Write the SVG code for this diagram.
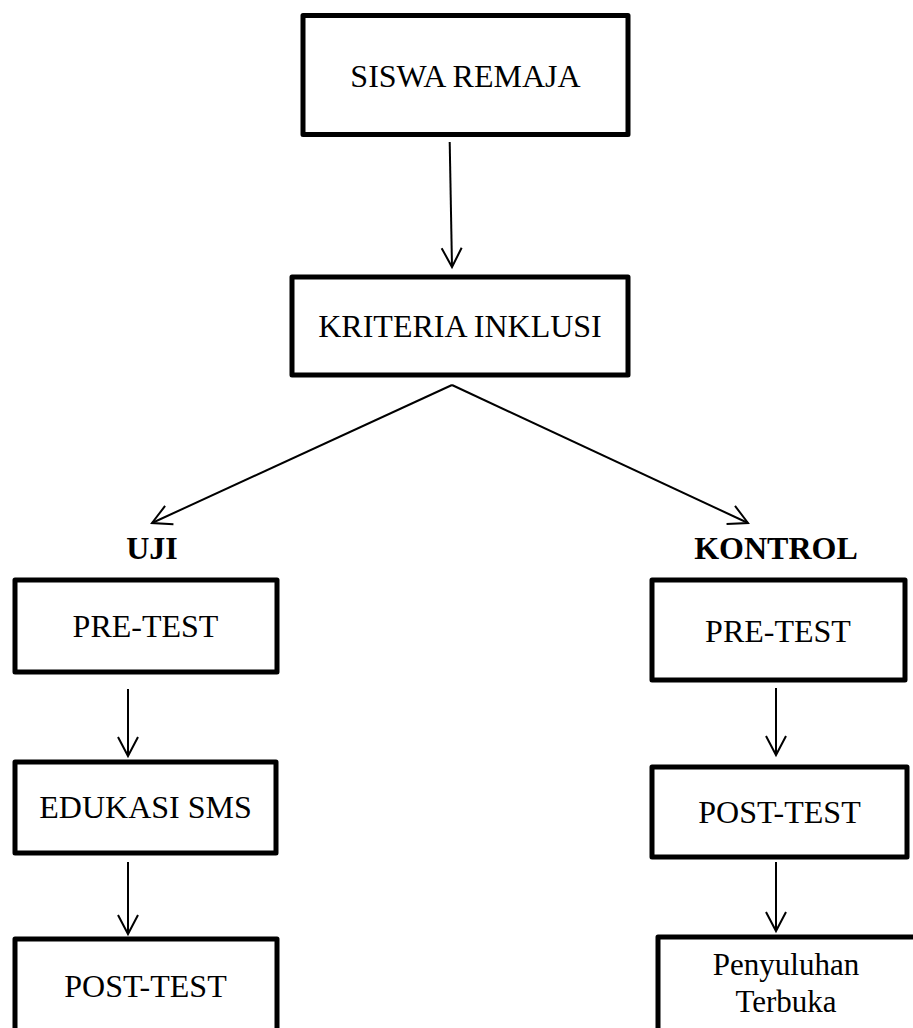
<svg xmlns="http://www.w3.org/2000/svg" width="913" height="1028" viewBox="0 0 913 1028">
<defs>
<style>
.box{fill:#fff;stroke:#000;stroke-width:5;stroke-linejoin:round}
.t{font-family:"Liberation Serif","Times New Roman",serif;font-size:32px;fill:#000;text-anchor:middle}
.b{font-weight:bold}
.c{fill:none;stroke:#000;stroke-width:2}
</style>
<marker id="ah" markerUnits="userSpaceOnUse" markerWidth="24" markerHeight="24" viewBox="-20 -12 24 24" refX="0" refY="0" orient="auto">
<path d="M-19,-10 L0,0 L-19,10" fill="none" stroke="#000" stroke-width="2"/>
</marker>
</defs>
<rect width="913" height="1028" fill="#fff"/>
<g id="connectors">
<line class="c" x1="449.7" y1="142" x2="452" y2="267" marker-end="url(#ah)"/>
<line class="c" x1="452" y1="385" x2="152" y2="523" marker-end="url(#ah)"/>
<line class="c" x1="452" y1="385" x2="748" y2="523" marker-end="url(#ah)"/>
<line class="c" x1="128" y1="689" x2="128" y2="756" marker-end="url(#ah)"/>
<line class="c" x1="128" y1="862" x2="128" y2="934" marker-end="url(#ah)"/>
<line class="c" x1="776" y1="688" x2="776" y2="755" marker-end="url(#ah)"/>
<line class="c" x1="776" y1="862" x2="776" y2="931" marker-end="url(#ah)"/>
</g>
<g id="siswa-remaja">
<rect class="box" x="303" y="15.5" width="325" height="119"/>
<text class="t" x="465.5" y="87">SISWA REMAJA</text>
</g>
<g id="kriteria-inklusi">
<rect class="box" x="292" y="277" width="336" height="98"/>
<text class="t" x="460" y="337">KRITERIA INKLUSI</text>
</g>
<g id="label-uji">
<text class="t b" x="152" y="559">UJI</text>
</g>
<g id="label-kontrol">
<text class="t b" x="776" y="559">KONTROL</text>
</g>
<g id="uji-pre-test">
<rect class="box" x="15" y="580" width="262" height="92"/>
<text class="t" x="145.5" y="637">PRE-TEST</text>
</g>
<g id="uji-edukasi-sms">
<rect class="box" x="15" y="762" width="261" height="91"/>
<text class="t" x="145.5" y="818">EDUKASI SMS</text>
</g>
<g id="uji-post-test">
<rect class="box" x="15" y="939" width="262" height="110"/>
<text class="t" x="145.5" y="997">POST-TEST</text>
</g>
<g id="kontrol-pre-test">
<rect class="box" x="652" y="580" width="253" height="100"/>
<text class="t" x="778" y="642">PRE-TEST</text>
</g>
<g id="kontrol-post-test">
<rect class="box" x="652" y="767" width="255" height="90"/>
<text class="t" x="779.5" y="823">POST-TEST</text>
</g>
<g id="kontrol-penyuluhan-terbuka">
<rect class="box" x="658" y="937" width="258" height="110"/>
<text class="t" x="786" y="975" style="font-size:31px">Penyuluhan</text>
<text class="t" x="786" y="1012" style="font-size:31px">Terbuka</text>
</g>
</svg>
